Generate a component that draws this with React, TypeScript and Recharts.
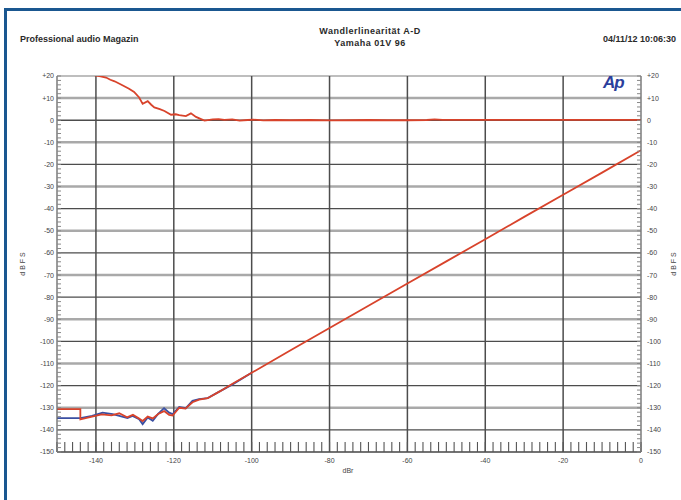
import React from "react";
import { LineChart, Line, XAxis, YAxis, ReferenceLine } from "recharts";

// tick positions (dBr on x, dBFS on y)
const X_LABEL_TICKS = [-140, -120, -100, -80, -60, -40, -20, 0];
const X_GRID = [-140, -120, -100, -80, -60, -40, -20];
const X_MINOR_TICKS = [
  -150, -148, -146, -144, -142, -140, -138, -136, -134, -132, -130, -128, -126,
  -124, -122, -120, -118, -116, -114, -112, -110, -108, -106, -104, -102, -100,
  -98, -96, -94, -92, -90, -88, -86, -84, -82, -80, -78, -76, -74, -72, -70,
  -68, -66, -64, -62, -60, -58, -56, -54, -52, -50, -48, -46, -44, -42, -40,
  -38, -36, -34, -32, -30, -28, -26, -24, -22, -20, -18, -16, -14, -12, -10,
  -8, -6, -4, -2, 0,
];
const Y_LABEL_TICKS = [
  20, 10, 0, -10, -20, -30, -40, -50, -60, -70, -80, -90, -100, -110, -120,
  -130, -140, -150,
];
const Y_GRID_DARK = [0, -20, -40, -60, -80, -100, -120, -140];
const Y_GRID_LIGHT = [20, 10, -10, -30, -50, -70, -90, -110, -130];
const Y_MINOR_TICKS = [
  20, 18, 16, 14, 12, 10, 8, 6, 4, 2, 0, -2, -4, -6, -8, -10, -12, -14, -16,
  -18, -20, -22, -24, -26, -28, -30, -32, -34, -36, -38, -40, -42, -44, -46,
  -48, -50, -52, -54, -56, -58, -60, -62, -64, -66, -68, -70, -72, -74, -76,
  -78, -80, -82, -84, -86, -88, -90, -92, -94, -96, -98, -100, -102, -104,
  -106, -108, -110, -112, -114, -116, -118, -120, -122, -124, -126, -128,
  -130, -132, -134, -136, -138, -140, -142, -144, -146, -148, -150,
];

// deviation trace (top, red)
const DEV_X = [
  -141.5, -140.2, -138.8, -137.4, -136.3, -135.2, -133.2, -131.5, -130.2,
  -128.9, -128.0, -126.7, -125.8, -125.0, -123.6, -122.4, -120.7, -119.5,
  -118.6, -116.9, -115.6, -114.3, -113.0, -112.1, -110.0, -108.5, -107.0,
  -105.0, -103.1, -101.0, -99.6, -97.0, -94.0, -90, -85, -80, -75, -70, -65,
  -60, -55, -53, -51, -45, -40, -30, -20, -10, 0,
];
const DEV_Y = [
  22, 20.3, 19.8, 19.3, 18.3, 17.6, 15.8, 14.2, 12.8, 10.3, 7.4, 8.6, 7.0, 5.8,
  5.0, 4.2, 2.5, 2.7, 2.3, 1.9, 3.1, 1.5, 0.5, -0.2, 0.4, 0.5, 0.2, 0.4, -0.2,
  0.1, 0.3, -0.1, 0.1, 0.0, 0.1, -0.1, 0.0, 0.1, 0.0, 0.0, 0.1, 0.4, 0.2, 0.2,
  0.2, 0.2, 0.2, 0.2, 0.2,
];

// linearity trace, red channel
const RED_X = [
  -150, -144, -144, -141, -138.5, -136, -134, -132, -130.5, -129, -128, -126.7,
  -125.4, -124, -122.5, -121.2, -120.3, -118.6, -117, -115.2, -113.5, -111.3,
  -108.2, -104.8, -100, -90, -80, -70, -60, -50, -40, -30, -20, -10, 0,
];
const RED_Y = [
  -130.6, -130.6, -135.2, -134.0, -133.0, -133.4, -132.5, -134.3, -133.2,
  -134.8, -136.0, -134.0, -134.8, -132.8, -131.5, -133.2, -133.5, -130.0,
  -130.4, -127.5, -126.3, -125.7, -122.6, -119.0, -114.2, -104.0, -93.9, -83.9,
  -73.8, -63.8, -53.8, -43.7, -33.7, -23.7, -13.6,
];

// linearity trace, blue channel (only the noise floor shows)
const BLUE_X = [
  -150, -144, -141, -138.3, -135.7, -134, -131.9, -130.6, -128.9, -128, -126.7,
  -125.4, -124.1, -122.5, -121.2, -120.3, -118.6, -116.9, -115.2, -113.5,
  -111.3, -108.2, -104.8, -100,
];
const BLUE_Y = [
  -134.7, -134.7, -133.7, -132.2, -132.9, -133.7, -134.7, -133.7, -135.2,
  -137.4, -134.4, -135.9, -132.9, -130.2, -132.2, -132.9, -129.6, -130.2,
  -126.9, -126.1, -125.6, -122.6, -119.3, -114.2,
];

const zip = (xs: number[], ys: number[]) =>
  xs.map((x, i) => ({ x, y: ys[i] }));

const devData = zip(DEV_X, DEV_Y);
const redData = zip(RED_X, RED_Y);
const blueData = zip(BLUE_X, BLUE_Y);

const RED = "#d8432b";
const BLUE = "#3a4fa2";
const FONT = "'Liberation Sans', Arial, sans-serif";
const LABEL_FILL = "#444";

const X_TICK = 10;
const Y_TICK = 4;

function fmtY(v: number) {
  return v > 0 ? `+${v}` : `${v}`;
}

function XTick(props: any) {
  const v = props.payload?.value;
  if (!X_LABEL_TICKS.includes(v)) return <g />;
  const axisY = props.y + X_TICK;
  return (
    <text
      x={props.x}
      y={axisY + 11}
      textAnchor="middle"
      fontSize={7}
      fontFamily={FONT}
      fill={LABEL_FILL}
    >
      {v}
    </text>
  );
}

function LeftTick(props: any) {
  const v = props.payload?.value;
  if (!Y_LABEL_TICKS.includes(v)) return <g />;
  const axisX = props.x - Y_TICK;
  return (
    <text
      x={axisX - 3}
      y={props.y}
      dy="0.35em"
      textAnchor="end"
      fontSize={7}
      fontFamily={FONT}
      fill={LABEL_FILL}
    >
      {fmtY(v)}
    </text>
  );
}

function RightTick(props: any) {
  const v = props.payload?.value;
  if (!Y_LABEL_TICKS.includes(v)) return <g />;
  const axisX = props.x + Y_TICK;
  return (
    <text
      x={axisX + 6}
      y={props.y}
      dy="0.35em"
      textAnchor="start"
      fontSize={7}
      fontFamily={FONT}
      fill={LABEL_FILL}
    >
      {fmtY(v)}
    </text>
  );
}

const headerText: React.CSSProperties = {
  position: "absolute",
  fontFamily: FONT,
  fontSize: 9,
  fontWeight: 700,
  color: "#2a2a2a",
  whiteSpace: "nowrap",
  lineHeight: "11.5px",
};

const axisTitle: React.CSSProperties = {
  ...headerText,
  fontWeight: 400,
  fontSize: 7,
  color: "#444",
  letterSpacing: 2,
};

export default function App() {
  return (
    <div
      style={{
        position: "fixed",
        left: 0,
        top: 0,
        width: 681,
        height: 500,
        background: "#fff",
        overflow: "hidden",
      }}
    >
      <div
        style={{
          position: "absolute",
          left: 4,
          top: 8,
          width: 677,
          height: 3,
          background: "#1a5790",
        }}
      />
      <div
        style={{
          position: "absolute",
          left: 4,
          top: 8,
          width: 3,
          height: 492,
          background: "#1a5790",
        }}
      />

      <div style={{ ...headerText, left: 20, top: 34 }}>
        Professional audio Magazin
      </div>
      <div
        style={{
          ...headerText,
          left: 250,
          width: 240,
          top: 26,
          textAlign: "center",
          letterSpacing: 0.5,
        }}
      >
        Wandlerlinearität A-D
        <br />
        Yamaha 01V 96
      </div>
      <div style={{ ...headerText, right: 5, top: 34 }}>04/11/12 10:06:30</div>

      <div style={{ position: "absolute", left: 0, top: 0 }}>
        <LineChart
          width={681}
          height={500}
          margin={{ top: 76, right: 40, bottom: 48, left: 57 }}
        >
          <XAxis
            dataKey="x"
            type="number"
            domain={[-150, 0]}
            allowDataOverflow
            ticks={X_MINOR_TICKS}
            interval={0}
            height={1}
            mirror
            tickSize={X_TICK}
            tickMargin={0}
            axisLine={{ stroke: "#444", strokeWidth: 1.5 }}
            tickLine={{ stroke: "#555", strokeWidth: 1.1 }}
            tick={<XTick />}
          />
          <YAxis
            type="number"
            domain={[-150, 20]}
            allowDataOverflow
            ticks={Y_MINOR_TICKS}
            interval={0}
            width={1}
            mirror
            tickSize={Y_TICK}
            tickMargin={0}
            axisLine={{ stroke: "#666", strokeWidth: 1.3 }}
            tickLine={{ stroke: "#888", strokeWidth: 1 }}
            tick={<LeftTick />}
          />
          <YAxis
            yAxisId="r"
            orientation="right"
            type="number"
            domain={[-150, 20]}
            allowDataOverflow
            ticks={Y_MINOR_TICKS}
            interval={0}
            width={1}
            mirror
            tickSize={Y_TICK}
            tickMargin={0}
            axisLine={{ stroke: "#666", strokeWidth: 1.3 }}
            tickLine={{ stroke: "#888", strokeWidth: 1 }}
            tick={<RightTick />}
          />

          {Y_GRID_LIGHT.map((v) => (
            <ReferenceLine
              key={`yl${v}`}
              y={v}
              stroke="#a9a9a9"
              strokeWidth={v === 20 ? 1.5 : 2.5}
            />
          ))}
          {Y_GRID_DARK.map((v) => (
            <ReferenceLine
              key={`yd${v}`}
              y={v}
              stroke="#4d4d4d"
              strokeWidth={1.3}
            />
          ))}
          {X_GRID.map((v) => (
            <ReferenceLine
              key={`x${v}`}
              x={v}
              stroke="#4d4d4d"
              strokeWidth={1.5}
            />
          ))}

          <Line
            data={blueData}
            dataKey="y"
            type="linear"
            stroke={BLUE}
            strokeWidth={1.8}
            dot={false}
            isAnimationActive={false}
          />
          <Line
            data={redData}
            dataKey="y"
            type="linear"
            stroke={RED}
            strokeWidth={1.8}
            dot={false}
            isAnimationActive={false}
          />
          <Line
            data={devData}
            dataKey="y"
            type="linear"
            stroke={RED}
            strokeWidth={1.8}
            dot={false}
            isAnimationActive={false}
          />
        </LineChart>
      </div>

      <div
        style={{
          position: "absolute",
          left: 603,
          top: 73,
          fontFamily: FONT,
          fontSize: 17,
          fontWeight: 700,
          fontStyle: "italic",
          color: "#2b3f9c",
          letterSpacing: -1,
        }}
      >
        Ap
      </div>
      <div
        style={{
          ...axisTitle,
          letterSpacing: 0,
          left: 348,
          top: 465,
          transform: "translateX(-50%)",
        }}
      >
        dBr
      </div>
      <div
        style={{
          ...axisTitle,
          left: 23,
          top: 263,
          transform: "translate(-50%, -50%) rotate(-90deg)",
        }}
      >
        dBFS
      </div>
      <div
        style={{
          ...axisTitle,
          left: 674,
          top: 263,
          transform: "translate(-50%, -50%) rotate(-90deg)",
        }}
      >
        dBFS
      </div>
    </div>
  );
}
